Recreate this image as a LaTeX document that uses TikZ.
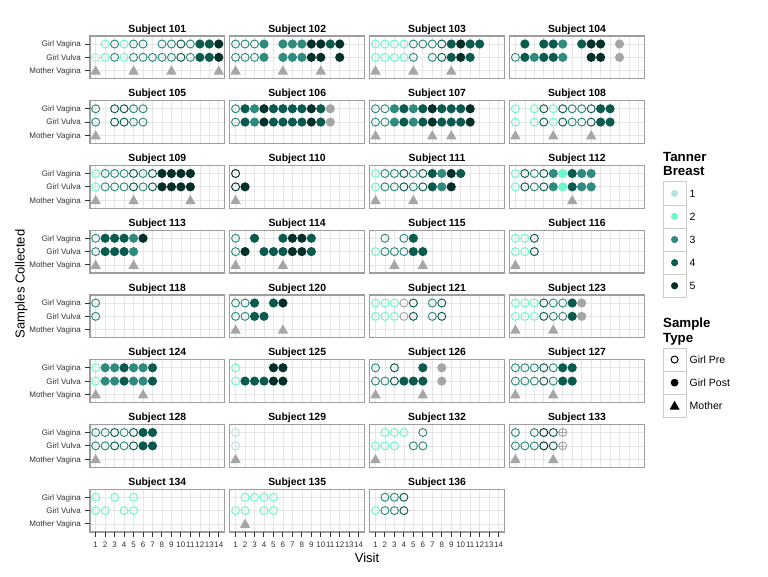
\documentclass[tikz,border=0pt]{standalone}
\usepackage{fontspec}
\setmainfont{Liberation Sans}
\definecolor{t1}{HTML}{B7E3DE}
\definecolor{t2}{HTML}{6EF7CA}
\definecolor{t3}{HTML}{2E8B7D}
\definecolor{t4}{HTML}{0B5A4E}
\definecolor{t5}{HTML}{05302A}
\definecolor{na}{HTML}{A6A6A6}
\definecolor{gridc}{HTML}{E6E6E6}
\definecolor{bordc}{HTML}{9E9E9E}
\definecolor{keyc}{HTML}{CCCCCC}
\definecolor{axc}{HTML}{333333}
\tikzset{
 gridmaj/.style={draw=gridc, line width=0.7pt},
 pborder/.style={draw=bordc, line width=1.1pt},
 opnmk/.style={line width=0.95pt},
 ptitle/.style={font=\bfseries\fontsize{10.4}{12}\selectfont, anchor=base, inner sep=0pt},
 ylab/.style={font=\fontsize{8}{9.6}\selectfont, anchor=base east, inner sep=0pt, text=axc},
 xlab/.style={font=\fontsize{8}{9.6}\selectfont, anchor=base, inner sep=0pt, text=axc},
 tickln/.style={draw=axc, line width=1pt},
 legkey/.style={draw=keyc, line width=0.8pt, fill=white},
 legtitle/.style={font=\bfseries\fontsize{13.3}{15}\selectfont, anchor=base west, inner sep=0pt},
 leglab/.style={font=\fontsize{10.5}{12}\selectfont, anchor=base west, inner sep=0pt},
 axtitle/.style={font=\fontsize{13}{15}\selectfont, anchor=base, inner sep=0pt},
}
\newcommand\opnC[3]{\draw[#1,opnmk] ({(#2-0.4)*9.47},{(#3-0.4)*13.34}) circle[radius=4pt];}
\newcommand\filC[3]{\fill[#1] ({(#2-0.4)*9.47},{(#3-0.4)*13.34}) circle[radius=4.6pt];}
\newcommand\crsC[3]{\coordinate (cp) at ({(#2-0.4)*9.47},{(#3-0.4)*13.34});
  \draw[#1,opnmk] (cp) circle[radius=4pt];
  \draw[#1,line width=0.7pt] ([xshift=-4pt]cp) -- ([xshift=4pt]cp) ([yshift=-4pt]cp) -- ([yshift=4pt]cp);}
\expandafter\def\csname mk.\endcsname#1#2{}
\expandafter\def\csname mka\endcsname{\opnC{t1}}
\expandafter\def\csname mkb\endcsname{\opnC{t2}}
\expandafter\def\csname mkc\endcsname{\opnC{t3}}
\expandafter\def\csname mkd\endcsname{\opnC{t4}}
\expandafter\def\csname mke\endcsname{\opnC{t5}}
\expandafter\def\csname mkA\endcsname{\filC{t1}}
\expandafter\def\csname mkB\endcsname{\filC{t2}}
\expandafter\def\csname mkC\endcsname{\filC{t3}}
\expandafter\def\csname mkD\endcsname{\filC{t4}}
\expandafter\def\csname mkE\endcsname{\filC{t5}}
\expandafter\def\csname mkg\endcsname{\opnC{na}}
\expandafter\def\csname mkG\endcsname{\filC{na}}
\expandafter\def\csname mkx\endcsname{\crsC{na}}
\newcommand\triM[1]{\fill[na] ({(#1-0.4)*9.47},{2.6*13.34}) ++(0,-5.3) -- ++(5.3,9.3) -- ++(-10.6,0) -- cycle;}
\newcommand\panel[6]{%
\begin{scope}[shift={({90+139.9*(#1-1)},{36+64.75*(#2-1)})}]
\fill[white] (0,0) rectangle (134.5,42.7);
\foreach \vv in {1,...,14} {\draw[gridmaj] ({(\vv-0.4)*9.47},0) -- ({(\vv-0.4)*9.47},42.7);}
\foreach \rr in {1,2,3} {\draw[gridmaj] (0,{(\rr-0.4)*13.34}) -- (134.5,{(\rr-0.4)*13.34});}
\foreach \cc [count=\vv] in {#4} {\csname mk\cc\endcsname{\vv}{1}}
\foreach \cc [count=\vv] in {#5} {\csname mk\cc\endcsname{\vv}{2}}
\def\mlist{#6}\ifx\mlist\empty\else\foreach \vv in {#6} {\triM{\vv}}\fi
\draw[pborder] (0,0) rectangle (134.5,42.7);
\node[ptitle] (s#3) at (67.25,-3.8) {Subject #3};
\end{scope}}
\newcommand\yaxis[1]{%
\begin{scope}[shift={(0,{36+64.75*(#1-1)})}]
\foreach \rr/\lab in {1/Girl Vagina,2/Girl Vulva,3/Mother Vagina} {
  \draw[tickln] (84.5,{(\rr-0.4)*13.34}) -- (90,{(\rr-0.4)*13.34});
  \node[ylab] (yl-#1-\rr) at (81,{(\rr-0.4)*13.34+2.9}) {\lab};
}
\end{scope}}
\newcommand\xaxis[1]{%
\begin{scope}[shift={({90+139.9*(#1-1)},0)}]
\foreach \vv in {1,...,14} {
  \draw[tickln] ({(\vv-0.4)*9.47},532) -- ({(\vv-0.4)*9.47},536.5);
  \node[xlab] (xl-#1-\vv) at ({(\vv-0.4)*9.47},547.5) {\vv};
}
\end{scope}}
\begin{document}
\begin{tikzpicture}[x=1pt,y=-1pt]
\useasboundingbox (0,0) rectangle (768,576);
\fill[white] (0,0) rectangle (768,576);
% row 1
\panel{1}{1}{101}{.,b,c,b,c,c,.,c,c,d,c,D,D,E}{a,b,c,b,c,c,c,c,c,d,c,D,D,E}{1,5,9,14}
\panel{2}{1}{102}{c,c,c,C,.,C,C,C,E,E,D,E}{c,c,c,C,.,C,C,C,E,E,.,E}{1,6,10}
\panel{3}{1}{103}{b,b,b,b,c,c,c,d,D,E,D,D}{b,b,b,b,c,.,c,d,D,E,D}{1,5,9}
\panel{4}{1}{104}{.,D,.,D,D,C,.,D,E,E,.,G}{c,D,C,D,D,C,.,.,E,E,.,G}{}
% row 2
\panel{1}{2}{105}{c,.,d,d,c,c}{c,.,d,d,c,c}{1}
\panel{2}{2}{106}{c,D,C,E,D,D,D,D,E,D,G}{c,D,C,E,D,D,D,D,E,D,G}{}
\panel{3}{2}{107}{c,c,C,D,C,D,E,D,D,D,E}{c,c,C,D,C,D,E,D,D,D,E}{1,7,9}
\panel{4}{2}{108}{b,.,b,d,b,d,c,c,d,D,D}{b,.,b,d,b,d,c,c,d,D,D}{1,5,9}
% row 3
\panel{1}{3}{109}{b,c,c,c,d,c,d,E,E,E,E}{b,c,c,c,d,c,d,E,E,E,E}{1,5,11}
\panel{2}{3}{110}{e}{e,E}{1}
\panel{3}{3}{111}{b,c,c,d,c,d,D,C,E,D}{b,c,c,d,c,d,D,C,E}{1,5}
\panel{4}{3}{112}{b,d,c,d,C,B,D,C,C}{b,d,c,d,C,B,D,C,C}{7}
% row 4
\panel{1}{4}{113}{c,D,D,D,C,E}{c,D,D,D,C}{1,5}
\panel{2}{4}{114}{c,.,D,.,.,D,E,E,D}{c,E,.,D,D,D,E,E,D}{1,6}
\panel{3}{4}{115}{.,c,.,c,D}{b,c,c,c,D,D}{3,6}
\panel{4}{4}{116}{b,b,d}{b,b,d}{1}
% row 5
\panel{1}{5}{118}{c}{c}{}
\panel{2}{5}{120}{c,c,D,.,D,E}{c,c,D,D}{1,6}
\panel{3}{5}{121}{b,b,b,g,d,.,c,d}{b,b,b,g,d,.,c,d}{}
\panel{4}{5}{123}{b,b,b,d,c,c,D,G}{b,b,b,d,c,c,D,G}{1,5}
% row 6
\panel{1}{6}{124}{b,C,C,D,C,C,D}{b,C,C,D,C,C,D}{1,6}
\panel{2}{6}{125}{b,.,.,.,E,E}{b,D,D,D,E,E}{}
\panel{3}{6}{126}{c,.,d,.,.,D,.,G}{c,c,d,D,D,D,.,G}{1,6}
\panel{4}{6}{127}{c,c,c,d,c,D,D}{c,c,c,d,c,D,D}{1,5}
% row 7
\panel{1}{7}{128}{c,c,d,c,d,D,D}{c,c,d,c,d,D,D}{1}
\panel{2}{7}{129}{a}{a}{1}
\panel{3}{7}{132}{.,b,b,b,.,c}{b,b,b,.,c,c}{1}
\panel{4}{7}{133}{c,.,c,e,d,x}{c,c,c,e,d,x}{1,5}
% row 8
\panel{1}{8}{134}{b,.,b,.,b}{b,b,.,b,b}{}
\panel{2}{8}{135}{.,b,b,b,b}{b,b,.,b,b}{2}
\panel{3}{8}{136}{.,c,c,d}{b,c,c,d}{}
% axes
\foreach \rw in {1,...,8} {\yaxis{\rw}}
\foreach \cl in {1,2,3} {\xaxis{\cl}}
\node[axtitle] (xtitle) at (367,562.3) {Visit};
\node[axtitle, rotate=90] (ytitle) at (24.5,283.8) {Samples Collected};
% legend: Tanner
\node[legtitle] (lt1) at (663,161) {Tanner};
\node[legtitle] (lt2) at (663,175.8) {Breast};
\foreach \k/\col in {1/t1,2/t2,3/t3,4/t4,5/t5} {
  \draw[legkey] (663,{181.8+23.1*(\k-1)}) rectangle (686.3,{181.8+23.1*\k});
  \fill[\col] (674.6,{181.8+23.1*(\k-0.5)}) circle[radius=3.6pt];
  \node[leglab] (tl\k) at (689.5,{181.8+23.1*(\k-0.5)+3.8}) {\k};
}
% legend: Sample Type
\node[legtitle] (ls1) at (663,327.5) {Sample};
\node[legtitle] (ls2) at (663,342.2) {Type};
\foreach \k in {1,2,3} {
  \draw[legkey] (663,{348+23.1*(\k-1)}) rectangle (686.3,{348+23.1*\k});
}
\draw[black, line width=1pt] (674.6,{348+23.1*0.5}) circle[radius=3.5pt];
\fill[black] (674.6,{348+23.1*1.5}) circle[radius=3.9pt];
\fill[black] (674.6,{348+23.1*2.5}) ++(0,-5) -- ++(5,8.8) -- ++(-10,0) -- cycle;
\node[leglab] (sl1) at (689.5,{348+23.1*0.5+3.8}) {Girl Pre};
\node[leglab] (sl2) at (689.5,{348+23.1*1.5+3.8}) {Girl Post};
\node[leglab] (sl3) at (689.5,{348+23.1*2.5+3.8}) {Mother};
\end{tikzpicture}
\end{document}
